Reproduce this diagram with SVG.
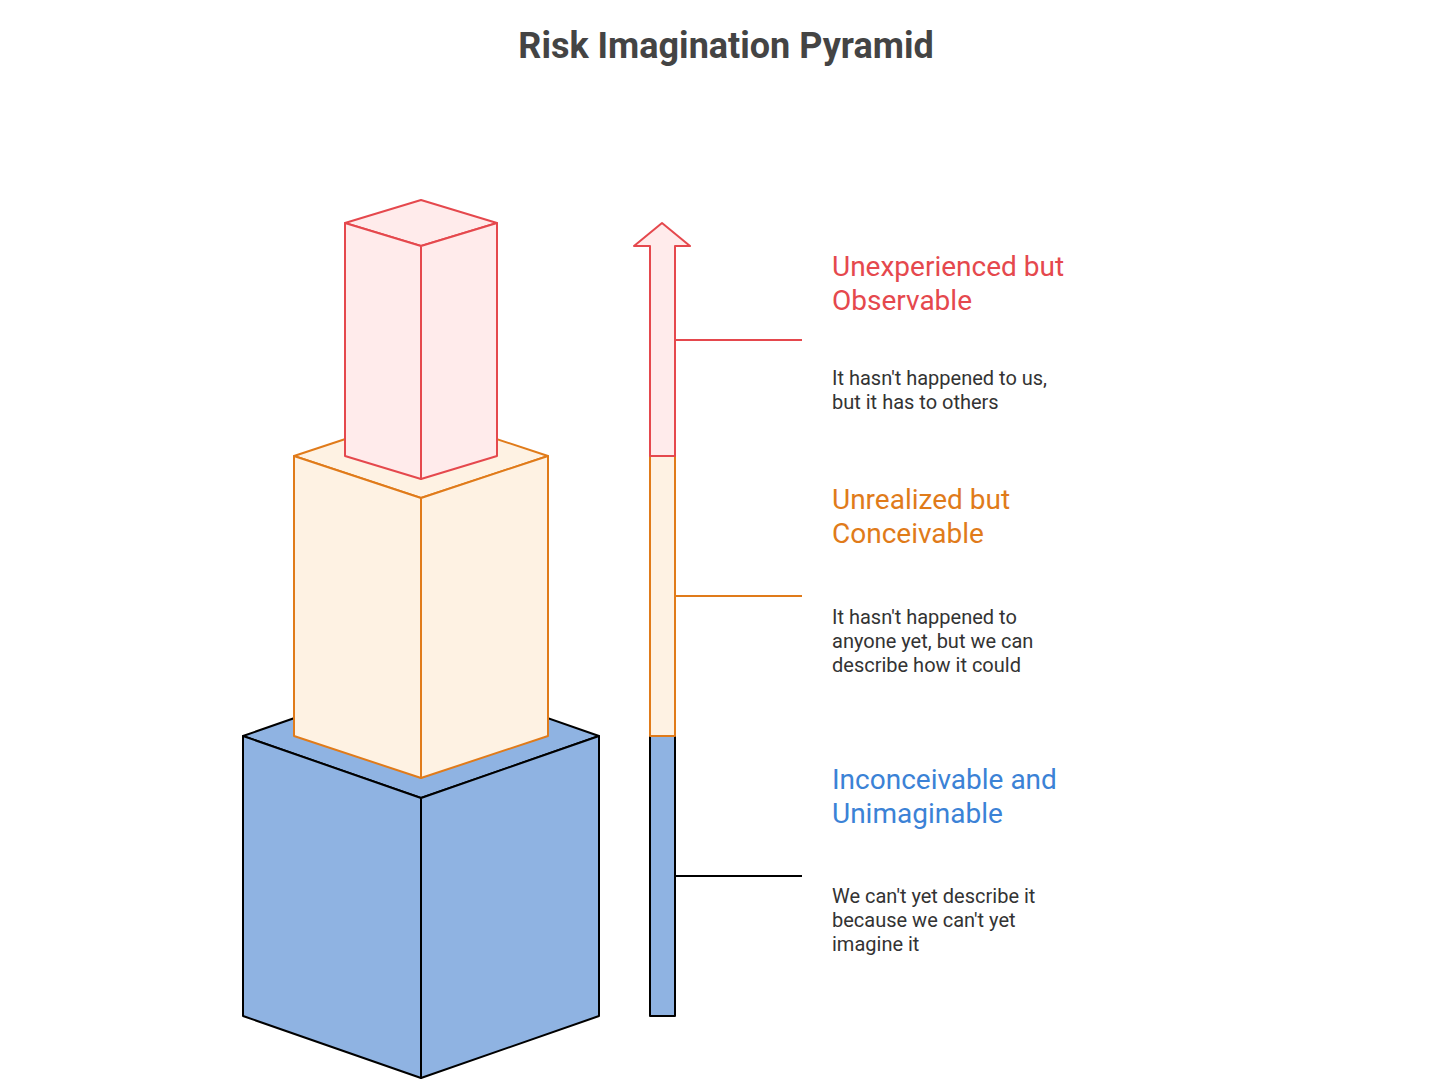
<svg xmlns="http://www.w3.org/2000/svg" width="1456" height="1092" viewBox="0 0 1456 1092">
<style>
.t{font-family:Roboto,"Liberation Sans",sans-serif}
.title{font-size:36px;font-weight:bold;fill:#444444}
.h{font-size:28px}
.d{font-size:20px;fill:#333333}
.red{fill:#FFEBEB;stroke:#E5484D;stroke-width:2;stroke-linejoin:round}
.org{fill:#FEF2E3;stroke:#E07B1A;stroke-width:2;stroke-linejoin:round}
.blu{fill:#8FB3E2;stroke:#000000;stroke-width:2;stroke-linejoin:round}
</style>
<rect width="1456" height="1092" fill="#ffffff"/>
<text class="t title" x="726" y="58" text-anchor="middle">Risk Imagination Pyramid</text>

<g id="box-blue">
<polygon class="blu" points="243,736 421,674 599,736 421,798"/>
<polygon class="blu" points="243,736 421,798 421,1078 243,1016"/>
<polygon class="blu" points="421,798 599,736 599,1016 421,1078"/>
</g>
<g id="box-orange">
<polygon class="org" points="294,456 421,414 548,456 421,498"/>
<polygon class="org" points="294,456 421,498 421,778 294,736"/>
<polygon class="org" points="421,498 548,456 548,736 421,778"/>
</g>
<g id="box-red">
<polygon class="red" points="345,223 421,200 497,223 421,246"/>
<polygon class="red" points="345,223 421,246 421,479 345,456"/>
<polygon class="red" points="421,246 497,223 497,456 421,479"/>
</g>

<g id="scale">
<rect class="blu" x="650" y="736" width="25" height="280"/>
<rect class="org" x="650" y="456" width="25" height="280"/>
<polygon class="red" points="650,456 650,246 634,246 662,223 690,246 675,246 675,456"/>
</g>

<g id="connectors">
<line x1="675" y1="340" x2="802" y2="340" stroke="#E5484D" stroke-width="2"/>
<line x1="675" y1="596" x2="802" y2="596" stroke="#E07B1A" stroke-width="2"/>
<line x1="675" y1="876" x2="802" y2="876" stroke="#000000" stroke-width="2"/>
</g>

<g id="label-red">
<text class="t h" x="832" y="276" fill="#E5484D">Unexperienced but</text>
<text class="t h" x="832" y="310" fill="#E5484D">Observable</text>
<text class="t d" x="832" y="385">It hasn't happened to us,</text>
<text class="t d" x="832" y="409">but it has to others</text>
</g>
<g id="label-orange">
<text class="t h" x="832" y="509" fill="#E07B1A">Unrealized but</text>
<text class="t h" x="832" y="543" fill="#E07B1A">Conceivable</text>
<text class="t d" x="832" y="624">It hasn't happened to</text>
<text class="t d" x="832" y="648">anyone yet, but we can</text>
<text class="t d" x="832" y="672">describe how it could</text>
</g>
<g id="label-blue">
<text class="t h" x="832" y="789" fill="#3B82D6">Inconceivable and</text>
<text class="t h" x="832" y="823" fill="#3B82D6">Unimaginable</text>
<text class="t d" x="832" y="903">We can't yet describe it</text>
<text class="t d" x="832" y="927">because we can't yet</text>
<text class="t d" x="832" y="951">imagine it</text>
</g>
</svg>
